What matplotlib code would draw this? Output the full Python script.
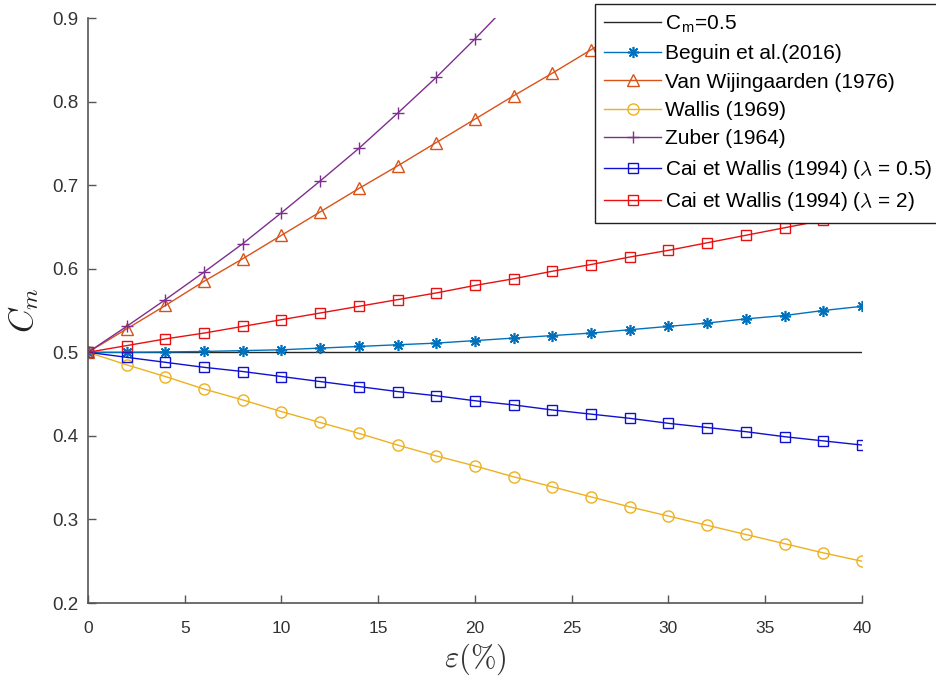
import matplotlib
matplotlib.use('Agg')
import matplotlib.pyplot as plt

plt.rcParams['font.family'] = ['Liberation Sans', 'DejaVu Sans']
plt.rcParams['mathtext.fontset'] = 'cm'

# void fraction (%)
eps = [0, 2, 4, 6, 8, 10, 12, 14, 16, 18, 20, 22, 24, 26, 28, 30, 32, 34, 36, 38, 40]

cm_ref = [0.5] * len(eps)
beguin = [0.500, 0.500, 0.5004, 0.501, 0.502, 0.503, 0.505, 0.507, 0.509, 0.511, 0.514,
          0.517, 0.520, 0.523, 0.527, 0.531, 0.535, 0.540, 0.544, 0.550, 0.555]
wallis = [0.500, 0.485, 0.471, 0.456, 0.443, 0.429, 0.416, 0.403, 0.389, 0.376, 0.364,
          0.351, 0.339, 0.327, 0.315, 0.304, 0.293, 0.282, 0.271, 0.260, 0.250]
cai_05 = [0.500, 0.494, 0.488, 0.482, 0.477, 0.471, 0.465, 0.459, 0.453, 0.448, 0.442,
          0.437, 0.431, 0.426, 0.421, 0.415, 0.410, 0.405, 0.399, 0.394, 0.389]
cai_2 = [0.500, 0.508, 0.516, 0.523, 0.531, 0.539, 0.547, 0.555, 0.563, 0.571, 0.580,
         0.588, 0.597, 0.605, 0.614, 0.622, 0.631, 0.640, 0.649, 0.658, 0.667]

eps_vw = [0, 2, 4, 6, 8, 10, 12, 14, 16, 18, 20, 22, 24, 26, 28]
van_wij = [0.500, 0.528, 0.556, 0.585, 0.612, 0.640, 0.668, 0.696, 0.723, 0.751, 0.779,
           0.807, 0.834, 0.862, 0.889]

eps_zu = [0, 2, 4, 6, 8, 10, 12, 14, 16, 18, 20, 22]
zuber = [0.500, 0.531, 0.563, 0.596, 0.630, 0.667, 0.705, 0.744, 0.786, 0.829, 0.875, 0.923]

fig = plt.figure(figsize=(9.37, 6.77), dpi=100)
ax = fig.add_axes([0.0939, 0.1093, 0.826, 0.8641])

lw = 1.0
ax.plot(eps, cm_ref, color='#262626', lw=lw, label='C$_\\mathregular{m}$=0.5')
ax.plot(eps, beguin, color='#0072BD', lw=lw, marker=(8, 2, 0), ms=8, mew=1.2,
        label='Beguin et al.(2016)')
ax.plot(eps_vw, van_wij, color='#D95319', lw=lw, marker='^', ms=8, mfc='none',
        label='Van Wijingaarden (1976)')
ax.plot(eps, wallis, color='#EDB120', lw=lw, marker='o', ms=8, mfc='none', label='Wallis (1969)')
ax.plot(eps_zu, zuber, color='#7E2F8E', lw=lw, marker='+', ms=9, label='Zuber (1964)')
ax.plot(eps, cai_05, color='#1010d0', lw=lw, marker='s', ms=6.5, mfc='none',
        label='Cai et Wallis (1994) ($\\lambda$ = 0.5)')
ax.plot(eps, cai_2, color='#e81010', lw=lw, marker='s', ms=6.5, mfc='none',
        label='Cai et Wallis (1994) ($\\lambda$ = 2)')

ax.set_xlim(0, 40)
ax.set_ylim(0.2, 0.9)
ax.set_xticks(range(0, 41, 5))
ax.set_yticks([0.2, 0.3, 0.4, 0.5, 0.6, 0.7, 0.8, 0.9])
ax.set_yticklabels(['0.2', '0.3', '0.4', '0.5', '0.6', '0.7', '0.8', '0.9'])

for side in ['top', 'right']:
    ax.spines[side].set_visible(False)
for side in ['left', 'bottom']:
    ax.spines[side].set_color('#555555')
    ax.spines[side].set_linewidth(1.2)
ax.tick_params(direction='in', length=6, width=1, colors='#555555', labelcolor='#333333')
ax.tick_params(axis='y', labelsize=13.5, pad=7)
ax.tick_params(axis='x', labelsize=12.5, pad=13)

ax.set_xlabel('$\\varepsilon(\\%)$', fontsize=22, color='#333333', labelpad=4)
ax.set_ylabel('$C_m$', fontsize=24, color='#222222', labelpad=8)

leg = ax.legend(loc='upper left', bbox_to_anchor=(595 / 937, 1 - 4 / 677),
                bbox_transform=fig.transFigure, fontsize=15, frameon=True, fancybox=False,
                edgecolor='#222222', framealpha=1, handlelength=2.7, handletextpad=0.2,
                labelspacing=0.45, borderpad=0.45, borderaxespad=0)
leg.get_frame().set_linewidth(1.0)
leg.set_zorder(10)

fig.savefig('out.png', dpi=100)
